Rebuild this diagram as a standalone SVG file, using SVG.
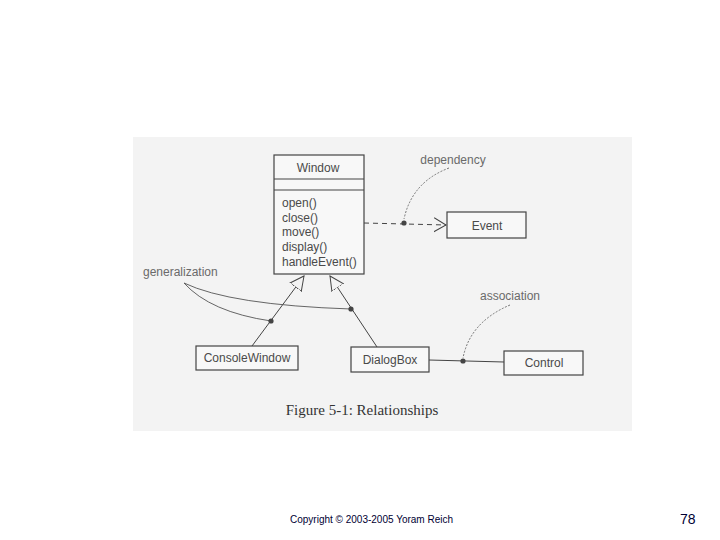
<svg xmlns="http://www.w3.org/2000/svg" width="720" height="540" viewBox="0 0 720 540">
<style>
.box{fill:#f8f8f8;stroke:#444;stroke-width:1.2}
.t{font-family:"Liberation Sans",Arial,sans-serif;font-size:12px;fill:#4a4a4a}
.lbl{font-family:"Liberation Sans",Arial,sans-serif;font-size:12px;fill:#6a6a6a}
.ln{fill:none;stroke:#444;stroke-width:1}
.lead{fill:none;stroke:#555;stroke-width:0.8;stroke-dasharray:2 1.5}
.leads{fill:none;stroke:#555;stroke-width:0.9}
.dot{fill:#444}
</style>
<defs>
<marker id="tri" markerUnits="userSpaceOnUse" markerWidth="16" markerHeight="16" refX="14" refY="7" orient="auto" viewBox="0 0 16 14">
<path d="M0,0 L14,7 L0,14 Z" fill="#f3f3f3" stroke="#444" stroke-width="1"/>
</marker>
<marker id="open" markerUnits="userSpaceOnUse" markerWidth="14" markerHeight="16" refX="12" refY="8" orient="auto" viewBox="0 0 14 16">
<path d="M0,1 L12,8 L0,15" fill="none" stroke="#444" stroke-width="1"/>
</marker>
</defs>
<rect width="720" height="540" fill="#ffffff"/>
<rect x="133" y="137" width="499" height="294" fill="#f3f3f3"/>

<g id="connectors">
<line class="ln" x1="364" y1="223" x2="446" y2="225" stroke-dasharray="5 4" marker-end="url(#open)"/>
<line class="ln" x1="252" y1="346" x2="304" y2="276" marker-end="url(#tri)"/>
<line class="ln" x1="377" y1="347" x2="330" y2="276" marker-end="url(#tri)"/>
<line class="ln" x1="429" y1="360" x2="504" y2="362" stroke-width="1.6"/>
<path class="lead" d="M449,168 Q412,182 404,219"/>
<path class="leads" d="M184,283 Q210,312 271,321"/>
<path class="leads" d="M184,283 Q230,305 351,309"/>
<path class="lead" d="M510,305 Q470,322 463,358"/>
<circle class="dot" cx="404" cy="223" r="2.6"/>
<circle class="dot" cx="271" cy="321" r="2.6"/>
<circle class="dot" cx="351" cy="309" r="2.6"/>
<circle class="dot" cx="463" cy="361" r="2.6"/>
</g>

<g id="Window">
<rect class="box" x="274" y="155" width="90" height="119"/>
<line class="ln" x1="274" y1="179" x2="364" y2="179"/>
<line class="ln" x1="274" y1="190" x2="364" y2="190"/>
<text class="t" x="318" y="172" text-anchor="middle">Window</text>
<text class="t" x="282" y="207">open()</text>
<text class="t" x="282" y="222">close()</text>
<text class="t" x="282" y="236">move()</text>
<text class="t" x="282" y="251">display()</text>
<text class="t" x="282" y="266">handleEvent()</text>
</g>

<g id="Event">
<rect class="box" x="447" y="212" width="79" height="26"/>
<text class="t" x="487" y="230" text-anchor="middle">Event</text>
</g>

<g id="ConsoleWindow">
<rect class="box" x="196" y="346" width="102" height="24"/>
<text class="t" x="247" y="362" text-anchor="middle">ConsoleWindow</text>
</g>

<g id="DialogBox">
<rect class="box" x="351" y="347" width="78" height="25"/>
<text class="t" x="390" y="364" text-anchor="middle">DialogBox</text>
</g>

<g id="Control">
<rect class="box" x="504" y="351" width="79" height="24"/>
<text class="t" x="544" y="367" text-anchor="middle">Control</text>
</g>

<g id="labels">
<text class="lbl" x="453" y="164" text-anchor="middle">dependency</text>
<text class="lbl" x="143" y="276">generalization</text>
<text class="lbl" x="510" y="300" text-anchor="middle">association</text>
<text x="362" y="415" text-anchor="middle" font-family="'Liberation Serif','Times New Roman',serif" font-size="15" fill="#333">Figure 5-1: Relationships</text>
</g>

<g id="footer">
<text x="290" y="523" font-family="'Liberation Sans',Arial,sans-serif" font-size="10" fill="#000033">Copyright © 2003-2005 Yoram Reich</text>
<text x="680" y="524" font-family="'Liberation Sans',Arial,sans-serif" font-size="14" fill="#000033">78</text>
</g>
</svg>
